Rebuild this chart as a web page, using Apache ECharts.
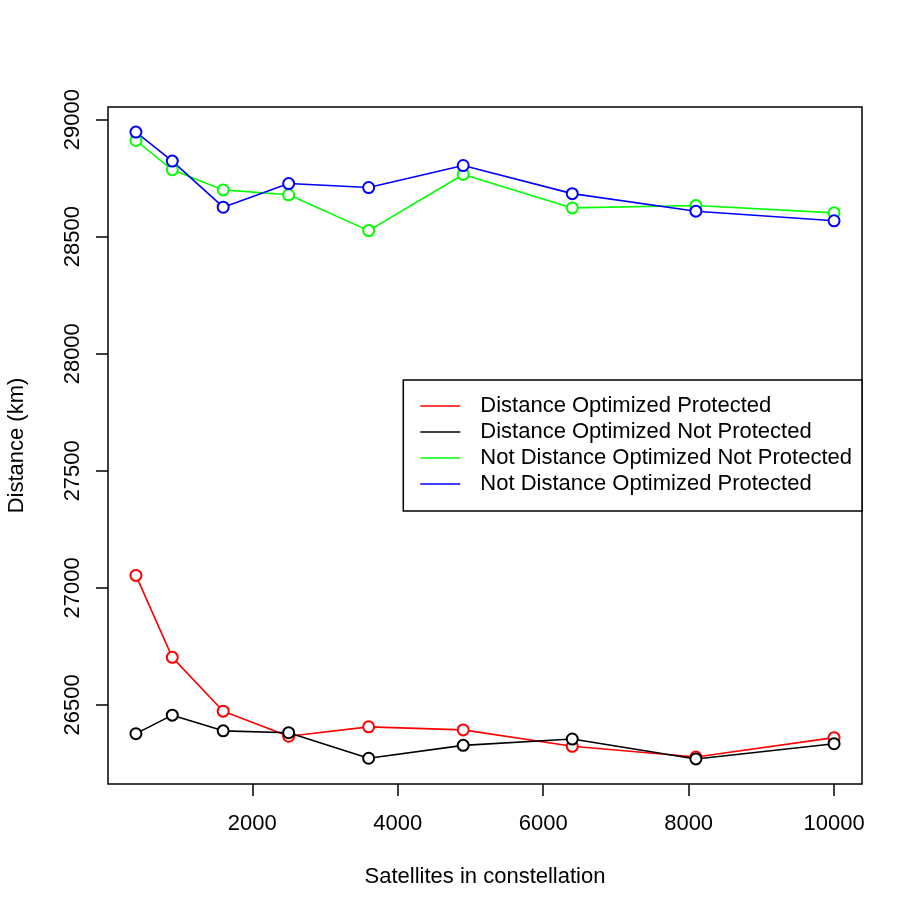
<!DOCTYPE html>
<html>
<head>
<meta charset="utf-8">
<title>Distance vs satellites</title>
<script src="https://cdn.jsdelivr.net/npm/echarts@6/dist/echarts.min.js"></script>
<style>
  html, body { margin: 0; padding: 0; background: #fff; }
  #chart { width: 917px; height: 917px; }
</style>
</head>
<body>
<div id="chart"></div>
<script>
// satellites in constellation
const satellites = [400, 900, 1600, 2500, 3600, 4900, 6400, 8100, 10000]

// distance (km) per series
const distOptProtected = [27053, 26703, 26473, 26366, 26406, 26393, 26323, 26277, 26360]
const distOptNotProtected = [26377, 26456, 26389, 26381, 26272, 26327, 26354, 26269, 26334]
const notDistOptNotProtected = [28911, 28786, 28700, 28679, 28526, 28766, 28623, 28633, 28602]
const notDistOptProtected = [28947, 28823, 28626, 28727, 28710, 28804, 28684, 28609, 28568]

const seriesNames = [
  'Distance Optimized Protected',
  'Distance Optimized Not Protected',
  'Not Distance Optimized Not Protected',
  'Not Distance Optimized Protected'
]
const seriesColors = ['#ff0000', '#000000', '#00ff00', '#0000ff']

const xTicks = [2000, 4000, 6000, 8000, 10000]
const yTicks = [26500, 27000, 27500, 28000, 28500, 29000]

const font = 'Liberation Sans, Arial, Helvetica, sans-serif'
const fontSize = 22

// R style axis range: data range padded by 4% each side
function padRange(values) {
  const lo = Math.min(...values)
  const hi = Math.max(...values)
  const pad = (hi - lo) * 0.04
  return [lo - pad, hi + pad]
}

const allY = [].concat(distOptProtected, distOptNotProtected, notDistOptNotProtected, notDistOptProtected)
const xRange = padRange(satellites)
const yRange = padRange(allY)

const allSeries = [distOptProtected, distOptNotProtected, notDistOptNotProtected, notDistOptProtected]

const chart = echarts.init(document.getElementById('chart'), null, { renderer: 'canvas' })

chart.setOption({
  animation: false,
  backgroundColor: '#ffffff',
  textStyle: { fontFamily: font },
  grid: {
    left: 108,
    right: 55,
    top: 107,
    bottom: 133,
    show: true,
    borderColor: '#000',
    borderWidth: 1.5,
    backgroundColor: 'transparent',
    containLabel: false,
    outerBoundsMode: 'none'
  },
  legend: {
    orient: 'vertical',
    right: 55,
    top: 380,
    padding: [15, 10, 16, 17],
    itemGap: 4,
    itemWidth: 40,
    itemHeight: 1.5,
    backgroundColor: '#fff',
    borderColor: '#000',
    borderWidth: 1.5,
    borderRadius: 0,
    itemStyle: { borderWidth: 0 },
    lineStyle: { width: 1.5 },
    textStyle: {
      fontFamily: font,
      fontSize: fontSize,
      color: '#000',
      lineHeight: 22,
      padding: [0, 0, 0, 15]
    },
    data: seriesNames.map(name => ({ name: name, icon: 'rect' }))
  },
  xAxis: {
    type: 'value',
    min: xRange[0],
    max: xRange[1],
    name: 'Satellites in constellation',
    nameLocation: 'middle',
    nameGap: 82,
    nameTextStyle: { fontFamily: font, fontSize: fontSize, color: '#000' },
    axisLine: { show: false },
    axisTick: {
      show: true,
      length: 12,
      customValues: xTicks,
      lineStyle: { color: '#000', width: 1.5 }
    },
    axisLabel: {
      customValues: xTicks,
      formatter: v => String(v),
      margin: 29,
      fontFamily: font,
      fontSize: fontSize,
      color: '#000'
    },
    splitLine: { show: false }
  },
  yAxis: {
    type: 'value',
    min: yRange[0],
    max: yRange[1],
    name: 'Distance (km)',
    nameLocation: 'middle',
    nameGap: 80,
    nameTextStyle: { fontFamily: font, fontSize: fontSize, color: '#000' },
    axisLine: { show: false },
    axisTick: {
      show: true,
      length: 12,
      customValues: yTicks,
      lineStyle: { color: '#000', width: 1.5 }
    },
    axisLabel: {
      customValues: yTicks,
      formatter: v => String(v),
      rotate: 90,
      margin: 24,
      fontFamily: font,
      fontSize: fontSize,
      color: '#000'
    },
    splitLine: { show: false }
  },
  series: allSeries.map((values, i) => ({
    name: seriesNames[i],
    type: 'line',
    data: satellites.map((x, j) => [x, values[j]]),
    symbol: 'emptyCircle',
    symbolSize: 11,
    color: seriesColors[i],
    lineStyle: { color: seriesColors[i], width: 1.6 },
    itemStyle: { color: seriesColors[i], borderColor: seriesColors[i], borderWidth: 1.6 }
  }))
})
</script>
</body>
</html>
